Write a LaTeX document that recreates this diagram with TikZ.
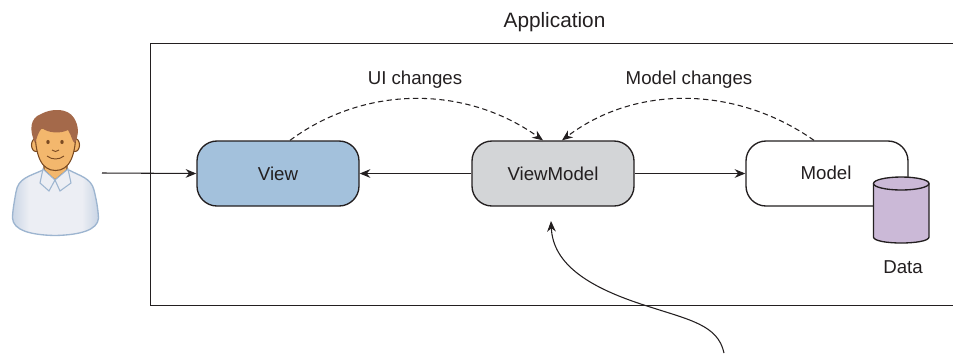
\documentclass[tikz,border=0pt]{standalone}
\usepackage{fontspec}
\setmainfont{Liberation Sans}
\usetikzlibrary{arrows.meta}
\definecolor{txt}{HTML}{231F20}
\definecolor{viewblue}{HTML}{A3C1DC}
\definecolor{vmgray}{HTML}{D3D5D7}
\definecolor{datapurple}{HTML}{CBB9D7}
\definecolor{hairc}{HTML}{A4694A}
\definecolor{skin}{HTML}{F3B76D}
\definecolor{skinline}{HTML}{7A4A22}
\definecolor{shirt}{HTML}{ECEEF4}
\definecolor{shirtside}{HTML}{C5D2E3}
\definecolor{shirtline}{HTML}{9DB5D0}
\tikzset{
  box/.style={draw=txt,line width=1pt,rounded corners=15pt,minimum width=121.5pt,minimum height=48.75pt,inner sep=0pt,font=\fontsize{14}{16}\selectfont,text=txt},
  lbl/.style={inner sep=0pt,font=\fontsize{14}{16}\selectfont,text=txt},
  conn/.style={draw=txt,line width=0.8pt,-{Stealth[length=8pt,width=6.5pt]}},
  dconn/.style={conn,dash pattern=on 4pt off 2.6pt},
}
\begin{document}
\begin{tikzpicture}[x=0.75pt,y=-0.75pt]
\useasboundingbox (0,0) rectangle (953,355);
% application frame, open at the right
\draw[txt,line width=0.9pt] (953,43.5) -- (150.5,43.5) -- (150.5,305.5) -- (953,305.5);
\node[lbl,font=\fontsize{15.6}{18}\selectfont] (app) at (554.5,22) {Application};
% boxes
\node[box,fill=viewblue] (view) at (278,173.5) {View};
\node[box,fill=vmgray] (vm) at (553,173.5) {ViewModel};
\node[box,fill=white] (model) at (827,173.5) {};
\node[lbl] (modellbl) at (826,172.5) {Model};
% data cylinder
\draw[txt,line width=1pt,fill=datapurple] (873.5,184) -- (873.5,237) .. controls (873.5,245) and (929,245) .. (929,237) -- (929,184) -- cycle;
\draw[txt,line width=1pt,fill=datapurple] (901.25,183.5) ellipse[x radius=27.75,y radius=6.5];
\node[lbl] (data) at (903,267) {Data};
% labels
\node[lbl] (ui) at (415,79.5) {UI changes};
\node[lbl] (mc) at (689,79.5) {Model changes};
% person
\coordinate (personr) at (102,173);
\def\bodypath{(43,170) .. controls (30,176) and (18,178) .. (16,192) .. controls (14,203) and (12.5,212) .. (12.5,218) .. controls (13,230) and (30,235) .. (55,235.5) .. controls (80,235) and (98,230) .. (98.5,218) .. controls (98,208) and (96,198) .. (94,190) .. controls (91,178) and (80,176) .. (69,170)}
\fill[shirt] \bodypath -- cycle;
\begin{scope}
\clip \bodypath -- cycle;
\shade[left color=shirtside,right color=shirt] (10,170) rectangle (29,240);
\shade[left color=shirt,right color=shirtside] (82,170) rectangle (100,240);
\end{scope}
\draw[shirtline,line width=1pt] \bodypath;
% neck
\draw[skinline,line width=0.8pt,fill=skin] (44,160) -- (44,170) -- (55,180) -- (67,170) -- (67,160) -- cycle;
% collar
\draw[shirtline,line width=0.8pt,fill=shirt] (43,169) -- (55,180) -- (49,191) -- (40,183) -- cycle;
\draw[shirtline,line width=0.8pt,fill=shirt] (68,169) -- (55,180) -- (60,191) -- (71,183) -- cycle;
% ears
\draw[skinline,line width=0.8pt,fill=skin] (36,145) circle[x radius=4.5,y radius=6.5];
\draw[skinline,line width=0.8pt,fill=skin] (75,145) circle[x radius=4.5,y radius=6.5];
% face
\draw[skinline,line width=0.8pt,fill=skin] (35,128) .. controls (35,155) and (41,170.5) .. (55.5,170.5) .. controls (70,170.5) and (76,155) .. (76,128) -- cycle;
% hair
\fill[hairc] (35,143) .. controls (29,130) and (30,118) .. (41,114) .. controls (52,108) and (68,108) .. (74,118) .. controls (79,126) and (79,134) .. (75,143) .. controls (72,142) and (72,136) .. (68,130) .. controls (60,134) and (48,133) .. (42,128) .. controls (38,132) and (37,138) .. (35,143) -- cycle;
% eyes, nose, mouth
\fill[skinline] (48,142) circle[x radius=1.7,y radius=2.1];
\fill[skinline] (62,142) circle[x radius=1.7,y radius=2.1];
\draw[skinline,line width=0.7pt] (52,150) .. controls (54,152) and (57,152) .. (59,150);
\draw[skinline,line width=0.7pt] (47,156) .. controls (52,160) and (59,160) .. (64,156);
% connectors
\draw[conn] (personr) -- (view.west);
\draw[conn] (vm.west) -- (view.east);
\draw[conn] (vm.east) -- (model.west);
\path (view.north) ++(12,0) coordinate (uistart);
\path (model.north) ++(-13,0) coordinate (mcstart);
\path (vm.north) ++(-10,0) coordinate (uiend);
\path (vm.north) ++(9,0) coordinate (mcend);
\draw[dconn] (uistart) .. controls (365,85) and (465,85) .. (uiend);
\draw[dconn] (mcstart) .. controls (735,85) and (635,85) .. (mcend);
\coordinate (free) at (724,353);
\draw[conn] (free) .. controls (718,325) and (690,320) .. (647,306) .. controls (590,288) and (553,265) .. (551,221);
\end{tikzpicture}
\end{document}
